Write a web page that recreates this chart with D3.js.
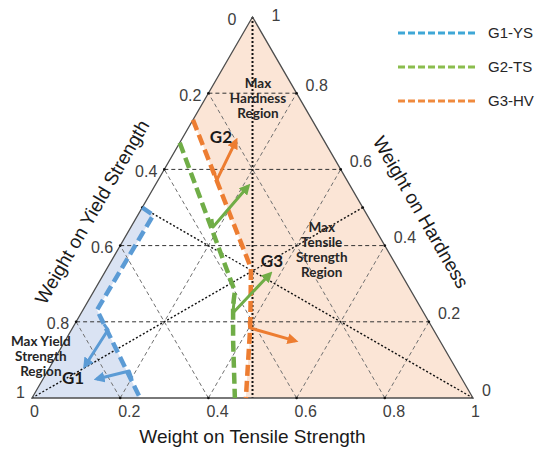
<!DOCTYPE html>
<html>
<head>
<meta charset="utf-8">
<script src="https://cdn.jsdelivr.net/npm/d3@7"></script>
<style>
  body { margin: 0; background: #fff; }
  svg { display: block; }
</style>
</head>
<body>
<script>
// ternary data, each point is [weight on tensile, weight on hardness]
// (weight on yield = 1 - tensile - hardness)
var tickValues = [0, 0.2, 0.4, 0.6, 0.8, 1];
var gridValues = [0.2, 0.4, 0.6, 0.8];

var seriesNames = ['G1-YS', 'G2-TS', 'G3-HV'];
var lineColors = ['#5b9bd5', '#70ad47', '#ed7d31'];
var legendColors = ['#3fa7d6', '#8bbd4e', '#f08a3e'];

// boundary of each group's region
var g1Line = [[0, 0.50], [0.035, 0.48], [0.032, 0.231], [0.245, 0]];
var g2Line = [[0, 0.67], [0.32, 0.28], [0.334, 0.244], [0.38, 0.152], [0.46, 0]];
var g3Line = [[0, 0.73], [0.326, 0.341], [0.40, 0.19], [0.485, 0]];

// arrows: stub start, elbow, tip
var g1Arrows = [
  [[0.066, 0.194], [0.083, 0.179], [0.078, 0.084]],
  [[0.202, 0.050], [0.185, 0.071], [0.122, 0.050]]
];
var g2Arrows = [
  [[0.173, 0.470], [0.186, 0.449], [0.212, 0.556]],
  [[0.330, 0.257], [0.344, 0.223], [0.377, 0.326]]
];
var g3Arrows = [
  [[0.116, 0.593], [0.133, 0.572], [0.125, 0.675]],
  [[0.392, 0.200], [0.402, 0.184], [0.522, 0.150]]
];

var groupLabels = [
  {name: 'G1', at: [0.067, 0.052]},
  {name: 'G2', at: [0.086, 0.685]},
  {name: 'G3', at: [0.364, 0.360]}
];
var regionLabels = [
  {lines: ['Max', 'Hardness', 'Region'], at: [0.119, 0.787]},
  {lines: ['Max', 'Tensile', 'Strength', 'Region'], at: [0.463, 0.388]},
  {lines: ['Max Yield', 'Strength', 'Region'], at: [-0.035, 0.110]}
];

var width = 541, height = 452;

var x = d3.scaleLinear().domain([0, 1]).range([32, 473]);
var y = d3.scaleLinear().domain([0, 1]).range([398, 17]);

var project = function(p) {
  return [x(p[0] + p[1] / 2), y(p[1])];
};

var svg = d3.select('body')
  .append('svg')
  .attr('width', width)
  .attr('height', height);

svg.append('rect')
  .attr('width', width)
  .attr('height', height)
  .attr('fill', '#fff');

var line = d3.line()
  .x(function(d) { return project(d)[0]; })
  .y(function(d) { return project(d)[1]; });

var apex = [0, 1], bl = [0, 0], br = [1, 0];

// region fills
svg.append('path')
  .attr('d', line([apex].concat(g3Line, [br])) + 'Z')
  .attr('fill', '#fbe5d6');

svg.append('path')
  .attr('d', line([bl].concat(g1Line)) + 'Z')
  .attr('fill', '#dae3f3');

// grid
var grid = svg.append('g');
gridValues.forEach(function(v) {
  grid.append('path')
    .attr('d', line([[0, v], [1 - v, v]]))
    .attr('stroke', '#333').attr('stroke-width', 1)
    .attr('stroke-dasharray', '4,3').attr('fill', 'none');
  grid.append('path')
    .attr('d', line([[v, 0], [v, 1 - v]]))
    .attr('stroke', '#707070').attr('stroke-width', 1)
    .attr('stroke-dasharray', '4,3').attr('fill', 'none');
  grid.append('path')
    .attr('d', line([[v, 0], [0, v]]))
    .attr('stroke', '#707070').attr('stroke-width', 1)
    .attr('stroke-dasharray', '4,3').attr('fill', 'none');
});

// medians
var medians = [
  [apex, [0.5, 0]],
  [bl, [0.5, 0.5]],
  [br, [0, 0.5]]
];
svg.selectAll('.median')
  .data(medians)
  .enter()
  .append('path')
  .attr('class', 'median')
  .attr('d', line)
  .attr('stroke', '#111')
  .attr('stroke-width', function(d, i) { return i === 0 ? 2 : 1.4; })
  .attr('stroke-dasharray', '2,2')
  .attr('fill', 'none');

// outline
svg.append('path')
  .attr('d', line([apex, bl, br]) + 'Z')
  .attr('fill', 'none')
  .attr('stroke', '#4d4d4d')
  .attr('stroke-width', 1.3);

// little marks where grid meets edges
var marks = [];
gridValues.forEach(function(v) {
  marks.push([0, v], [v, 0], [1 - v, v]);
});
marks.push([0.5, 0.5], [0, 0.5]);
svg.selectAll('.mark')
  .data(marks)
  .enter()
  .append('circle')
  .attr('class', 'mark')
  .attr('cx', function(d) { return project(d)[0]; })
  .attr('cy', function(d) { return project(d)[1]; })
  .attr('r', 1.3)
  .attr('fill', '#111');

// tick labels
var tickFont = '"Liberation Sans", Arial, sans-serif';
svg.selectAll('.tb')
  .data(tickValues)
  .enter()
  .append('text')
  .attr('class', 'tb')
  .attr('x', function(d) { return x(d) - 2; })
  .attr('y', 417)
  .attr('font-family', tickFont).attr('font-size', 16)
  .attr('fill', '#404040')
  .text(function(d) { return d; });

svg.selectAll('.tl')
  .data(tickValues)
  .enter()
  .append('text')
  .attr('class', 'tl')
  .attr('x', function(d) { return project([0, 1 - d])[0] + (d === 0 ? -16 : -7); })
  .attr('y', function(d) { return project([0, 1 - d])[1] + (d === 1 ? -6 : 2); })
  .attr('dy', '0.35em')
  .attr('text-anchor', 'end')
  .attr('font-family', tickFont).attr('font-size', 16)
  .attr('fill', '#404040')
  .text(function(d) { return d; });

svg.selectAll('.tr')
  .data(tickValues)
  .enter()
  .append('text')
  .attr('class', 'tr')
  .attr('x', function(d) { return project([1 - d, d])[0] + (d === 1 ? 19 : 9); })
  .attr('y', function(d) { return project([1 - d, d])[1] + (d === 1 ? -2 : -8); })
  .attr('dy', '0.35em')
  .attr('font-family', tickFont).attr('font-size', 16)
  .attr('fill', '#404040')
  .text(function(d) { return d; });

// axis titles
var titleFont = '"Liberation Sans", Arial, sans-serif';
svg.append('text')
  .attr('x', x(0.5)).attr('y', 443)
  .attr('text-anchor', 'middle')
  .attr('font-family', titleFont).attr('font-size', 19)
  .attr('fill', '#1a1a1a')
  .text('Weight on Tensile Strength');

svg.append('text')
  .attr('transform', 'translate(92,212) rotate(-60)')
  .attr('text-anchor', 'middle').attr('dy', '0.35em')
  .attr('font-family', titleFont).attr('font-size', 19)
  .attr('fill', '#1a1a1a')
  .text('Weight on Yield Strength');

svg.append('text')
  .attr('transform', 'translate(421,212) rotate(60)')
  .attr('text-anchor', 'middle').attr('dy', '0.35em')
  .attr('font-family', titleFont).attr('font-size', 19)
  .attr('fill', '#1a1a1a')
  .text('Weight on Hardness');

// arrow heads
var defs = svg.append('defs');
lineColors.forEach(function(c, i) {
  defs.append('marker')
    .attr('id', 'head' + i)
    .attr('viewBox', '0 0 10 10')
    .attr('refX', 7).attr('refY', 5)
    .attr('markerUnits', 'userSpaceOnUse')
    .attr('markerWidth', 11).attr('markerHeight', 11)
    .attr('orient', 'auto')
    .append('path')
    .attr('d', 'M0,0L10,5L0,10Z')
    .attr('fill', c);
});

// group boundaries
var boundaries = [g1Line, g2Line, g3Line];
svg.selectAll('.boundary')
  .data(boundaries)
  .enter()
  .append('path')
  .attr('class', 'boundary')
  .attr('d', line)
  .attr('fill', 'none')
  .attr('stroke', function(d, i) { return lineColors[i]; })
  .attr('stroke-width', 4.5)
  .attr('stroke-dasharray', '11,5');

// arrows
[g1Arrows, g2Arrows, g3Arrows].forEach(function(arrows, i) {
  svg.selectAll('.arrow' + i)
    .data(arrows)
    .enter()
    .append('path')
    .attr('class', 'arrow' + i)
    .attr('d', line)
    .attr('fill', 'none')
    .attr('stroke', lineColors[i])
    .attr('stroke-width', 3)
    .attr('stroke-linejoin', 'round')
    .attr('marker-end', 'url(#head' + i + ')');
});

// labels
var labelFont = 'Lato, "Open Sans", sans-serif';
svg.selectAll('.glabel')
  .data(groupLabels)
  .enter()
  .append('text')
  .attr('class', 'glabel')
  .attr('x', function(d) { return project(d.at)[0]; })
  .attr('y', function(d) { return project(d.at)[1]; })
  .attr('dy', '0.35em')
  .attr('text-anchor', 'middle')
  .attr('font-family', labelFont).attr('font-weight', 'bold')
  .attr('font-size', 17)
  .attr('fill', '#1a1a1a')
  .text(function(d) { return d.name; });

regionLabels.forEach(function(r) {
  var p = project(r.at);
  var t = svg.append('text')
    .attr('text-anchor', 'middle')
    .attr('font-family', labelFont).attr('font-weight', 'bold')
    .attr('font-size', 13.5)
    .attr('fill', '#262626');
  r.lines.forEach(function(s, k) {
    t.append('tspan')
      .attr('x', p[0])
      .attr('y', p[1] + (k - (r.lines.length - 1) / 2) * 15)
      .attr('dy', '0.35em')
      .text(s);
  });
});

// legend
var legend = svg.selectAll('.legend')
  .data(seriesNames)
  .enter()
  .append('g')
  .attr('class', 'legend')
  .attr('transform', function(d, i) { return 'translate(398,' + (33 + i * 34) + ')'; });

legend.append('line')
  .attr('x1', 0).attr('x2', 80)
  .attr('stroke', function(d, i) { return legendColors[i]; })
  .attr('stroke-width', 3)
  .attr('stroke-dasharray', '7,3');

legend.append('text')
  .attr('x', 90).attr('dy', '0.35em')
  .attr('font-family', tickFont).attr('font-size', 15)
  .attr('fill', '#262626')
  .text(function(d) { return d; });
</script>
</body>
</html>
